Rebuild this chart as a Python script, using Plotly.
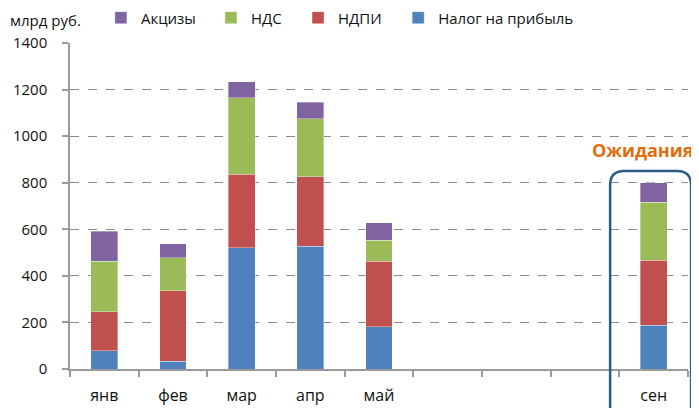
import plotly.graph_objects as go

months = ["янв", "фев", "мар", "апр", "май", "", "", "", "сен"]
profit_tax = [78, 34, 521, 527, 181, None, None, None, 188]
ndpi = [167, 301, 316, 299, 282, None, None, None, 279]
nds = [218, 142, 327, 249, 90, None, None, None, 250]
excise = [128, 61, 70, 70, 75, None, None, None, 83]

series = [
    ("Налог на прибыль", profit_tax, "#4F81BD", "legend4"),
    ("НДПИ", ndpi, "#C0504D", "legend3"),
    ("НДС", nds, "#9BBB59", "legend2"),
    ("Акцизы", excise, "#8064A2", "legend"),
]

xpos = list(range(len(months)))
fig = go.Figure()
for name, vals, color, lg in series:
    fig.add_trace(go.Bar(
        x=xpos, y=vals, name=name, width=0.39, legend=lg,
        marker=dict(color=color, line=dict(color="rgba(255,255,255,0.5)", width=0.7)),
    ))

font_family = "Open Sans, Noto Sans, DejaVu Sans, sans-serif"
leg_common = dict(orientation="h", xanchor="left", y=1.077, yanchor="middle",
                  font=dict(size=15, color="#111"), itemwidth=30,
                  bgcolor="rgba(0,0,0,0)")
fig.update_layout(
    barmode="stack",
    width=691, height=400,
    margin=dict(l=62, r=11, t=35, b=39, autoexpand=False),
    plot_bgcolor="white", paper_bgcolor="white",
    font=dict(family=font_family, size=14, color="#222"),
    showlegend=True,
    legend=dict(x=0.050, **leg_common),
    legend2=dict(x=0.228, **leg_common),
    legend3=dict(x=0.369, **leg_common),
    legend4=dict(x=0.531, **leg_common),
    bargap=0.6,
)
fig.update_xaxes(
    range=[-0.5, 8.5], tickmode="array", tickvals=xpos, ticktext=months,
    ticks="", showline=True, linecolor="#9a9a9a", linewidth=1.5,
    tickfont=dict(size=16, color="#111"), showgrid=False, zeroline=False, ticklabelstandoff=11,
    minor=dict(tick0=-0.5, dtick=1, ticks="outside", ticklen=6, tickcolor="#9a9a9a", tickwidth=1.5, showgrid=False),
)
fig.update_yaxes(
    range=[0, 1400], dtick=200, ticks="outside", ticklen=6, tickcolor="#9a9a9a", tickwidth=1.5,
    showline=True, linecolor="#9a9a9a", linewidth=1.5,
    showgrid=True, gridcolor="#8c8c8c", gridwidth=1.3, griddash="dash",
    zeroline=False, tickfont=dict(size=15, color="#111"), ticklabelstandoff=12,
)
fig.add_annotation(text="млрд руб.", xref="paper", yref="paper", x=-0.1, y=1.07,
                   xanchor="left", yanchor="middle", showarrow=False, font=dict(size=15, color="#111"))
fig.add_annotation(text="<b>Ожидания</b>", xref="paper", yref="paper", x=0.927, y=0.672,
                   xanchor="center", yanchor="middle", showarrow=False, font=dict(size=18, color="#E46C0A"))

# rounded rectangle in paper coords
x0, x1, y0, y1 = 0.874, 1.005, -0.25, 0.607
rx, ry = 14 / 618, 14 / 326
path = (f"M {x0} {y0} L {x0} {y1-ry} Q {x0} {y1} {x0+rx} {y1} "
        f"L {x1-rx} {y1} Q {x1} {y1} {x1} {y1-ry} L {x1} {y0}")
fig.add_shape(type="path", path=path, xref="paper", yref="paper",
              line=dict(color="#2E5A8A", width=2.5))

fig.write_html("out.html")
